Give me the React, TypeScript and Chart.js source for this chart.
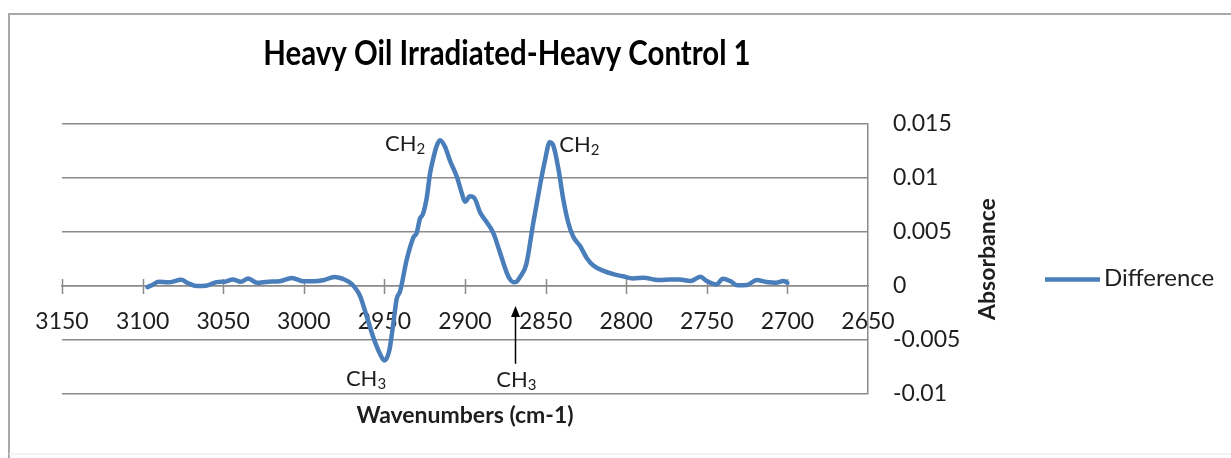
import React, { useEffect, useRef } from 'react';
import { Chart, registerables } from 'chart.js';

Chart.register(...registerables);

// ---------- data ----------
const chartTitle = 'Heavy Oil Irradiated-Heavy Control 1';
const xAxisTitle = 'Wavenumbers (cm-1)';
const yAxisTitle = 'Absorbance';
const seriesName = 'Difference';

const wavenumbers = [
  3097, 3094, 3090, 3084, 3076, 3072, 3066.5, 3060, 3054, 3049, 3044, 3039, 3034.5, 3029, 3022,
  3015, 3007.5, 3000, 2994, 2988, 2981, 2974.5, 2971, 2968, 2965, 2961, 2957, 2953, 2950, 2947,
  2944.5, 2942.4, 2940.3, 2936.2, 2932, 2930, 2928, 2926, 2923.7, 2921.7, 2919.7, 2917.5, 2915.5,
  2912.4, 2909.3, 2905, 2902, 2900, 2897, 2894, 2890.6, 2886.5, 2882.4, 2878.3, 2874, 2872, 2870,
  2868, 2866, 2862, 2857.6, 2853.5, 2850.3, 2847.5, 2845.2, 2842, 2839, 2836, 2833, 2828.6, 2824.5,
  2820.4, 2814, 2808, 2802, 2796, 2789, 2783, 2779, 2773, 2767, 2760, 2754, 2750, 2744, 2740,
  2735.5, 2731, 2725, 2719, 2713, 2707, 2702.5, 2700,
];

const absorbance = [
  -0.0001, 0.0001, 0.0004, 0.00034, 0.00058, 0.00028, 0.0, 0.00005, 0.00036, 0.0004, 0.0006, 0.0004, 0.0007, 0.0003, 0.0004,
  0.00043, 0.00074, 0.00043, 0.00043, 0.00053, 0.00083, 0.00058, 0.00028, -0.0002, -0.00095, -0.0028, -0.0047, -0.0062, -0.0069, -0.006,
  -0.0035, -0.0012, -0.0005, 0.0024, 0.0045, 0.0049, 0.0062, 0.0067, 0.0082, 0.0104, 0.0118, 0.013, 0.0135,
  0.0129, 0.0116, 0.0101, 0.0086, 0.0078, 0.0083, 0.0081, 0.0068, 0.0059, 0.0049, 0.0031, 0.0012, 0.0006, 0.00035,
  0.0004, 0.0008, 0.002, 0.0059, 0.0093, 0.0117, 0.0133, 0.013, 0.0108, 0.008, 0.0059, 0.0046, 0.0037, 0.0026,
  0.0019, 0.0014, 0.0011, 0.0009, 0.0007, 0.00077, 0.0006, 0.00055, 0.0006, 0.0006, 0.00046, 0.00086, 0.00046, 0.00015, 0.00068,
  0.00046, 0.00006, 0.0001, 0.00055, 0.00037, 0.0003, 0.00046, 0.0003,
];

const xMin = 2650;
const xMax = 3150;
const xStep = 50;
const yMin = -0.01;
const yMax = 0.015;
const yStep = 0.005;

// peak labels: main text, subscript, wavenumber, absorbance (baseline)
const peakLabelText = ['CH', 'CH', 'CH', 'CH'];
const peakLabelSub = ['2', '2', '3', '3'];
const peakLabelWn = [2937.2, 2829.1, 2961.4, 2868.1];
const peakLabelAbs = [0.0125, 0.0124, -0.00928, -0.00935];

// arrow pointing at the CH3 shoulder
const arrowWn = 2869;
const arrowFromAbs = -0.0072;
const arrowToAbs = -0.00185;

// ---------- styles ----------
const FONT = 'Lato';
const LINE_COLOR = '#4a7ebb';
const GRID_COLOR = '#8a8a8a';
const TEXT_COLOR = '#1e1e1e';

const decorPlugin = {
  id: 'decor',
  beforeDraw(chart: any) {
    const { ctx, width, height } = chart;
    ctx.save();
    ctx.fillStyle = '#ffffff';
    ctx.fillRect(0, 0, width, height);
    ctx.strokeStyle = '#a9a9a9';
    ctx.lineWidth = 2;
    ctx.beginPath();
    ctx.moveTo(9, height);
    ctx.lineTo(9, 14);
    ctx.lineTo(width, 14);
    ctx.stroke();
    ctx.strokeStyle = '#efefef';
    ctx.lineWidth = 1.5;
    ctx.beginPath();
    ctx.moveTo(9, 454);
    ctx.lineTo(width, 454);
    ctx.stroke();

    // chart title (slightly condensed, like the original)
    ctx.fillStyle = '#000';
    ctx.font = `bold 34px ${FONT}`;
    ctx.textAlign = 'center';
    ctx.textBaseline = 'middle';
    ctx.save();
    ctx.translate(507, 54);
    ctx.scale(0.865, 1);
    ctx.fillText(chartTitle, 0, 0);
    ctx.restore();
    ctx.restore();
  },
  beforeDatasetsDraw(chart: any) {
    const { ctx, chartArea } = chart;
    const xs = chart.scales.x;
    const ys = chart.scales.y;
    const y0 = ys.getPixelForValue(0);
    ctx.save();
    ctx.strokeStyle = GRID_COLOR;
    ctx.lineWidth = 1.5;
    xs.ticks.forEach((t: any) => {
      const px = Math.round(xs.getPixelForValue(t.value)) + 0.5;
      if (Math.abs(px - chartArea.right) < 2) return;
      ctx.beginPath();
      ctx.moveTo(px, y0 - 7);
      ctx.lineTo(px, y0 + 8);
      ctx.stroke();
    });
    ctx.restore();
  },
  afterDraw(chart: any) {
    const { ctx, chartArea } = chart;
    const xs = chart.scales.x;
    const ys = chart.scales.y;
    ctx.save();
    ctx.fillStyle = TEXT_COLOR;

    // peak labels with subscripts
    peakLabelText.forEach((txt, i) => {
      const cx = xs.getPixelForValue(peakLabelWn[i]);
      const by = ys.getPixelForValue(peakLabelAbs[i]);
      ctx.font = `22px ${FONT}`;
      const w1 = ctx.measureText(txt).width;
      ctx.font = `15px ${FONT}`;
      const w2 = ctx.measureText(peakLabelSub[i]).width;
      const x0 = cx - (w1 + w2) / 2;
      ctx.textAlign = 'left';
      ctx.textBaseline = 'alphabetic';
      ctx.font = `22px ${FONT}`;
      ctx.fillText(txt, x0, by);
      ctx.font = `15px ${FONT}`;
      ctx.fillText(peakLabelSub[i], x0 + w1, by + 3);
    });

    // arrow
    const ax = Math.round(xs.getPixelForValue(arrowWn)) + 0.5;
    const ay1 = ys.getPixelForValue(arrowFromAbs);
    const ay2 = ys.getPixelForValue(arrowToAbs);
    ctx.strokeStyle = '#000';
    ctx.lineWidth = 1.5;
    ctx.beginPath();
    ctx.moveTo(ax, ay1);
    ctx.lineTo(ax, ay2 + 8);
    ctx.stroke();
    ctx.fillStyle = '#000';
    ctx.beginPath();
    ctx.moveTo(ax, ay2);
    ctx.lineTo(ax - 4.5, ay2 + 11);
    ctx.lineTo(ax + 4.5, ay2 + 11);
    ctx.closePath();
    ctx.fill();

    // axis titles
    ctx.fillStyle = TEXT_COLOR;
    ctx.font = `bold 23px ${FONT}`;
    ctx.textAlign = 'center';
    ctx.textBaseline = 'middle';
    ctx.fillText(xAxisTitle, (chartArea.left + chartArea.right) / 2, 416);

    ctx.save();
    ctx.translate(988, (chartArea.top + chartArea.bottom) / 2);
    ctx.rotate(-Math.PI / 2);
    ctx.fillText(yAxisTitle, 0, 0);
    ctx.restore();

    // legend
    const ly = 279.5;
    ctx.strokeStyle = LINE_COLOR;
    ctx.lineWidth = 4.5;
    ctx.beginPath();
    ctx.moveTo(1045, ly);
    ctx.lineTo(1100, ly);
    ctx.stroke();
    ctx.fillStyle = TEXT_COLOR;
    ctx.font = `24px ${FONT}`;
    ctx.textAlign = 'left';
    ctx.textBaseline = 'middle';
    ctx.fillText(seriesName, 1104, ly - 1);

    ctx.restore();
  },
};

export default function App() {
  const canvasRef = useRef<HTMLCanvasElement | null>(null);

  useEffect(() => {
    const canvas = canvasRef.current;
    if (!canvas) return;
    Chart.defaults.font.family = FONT;
    const chart = new Chart(canvas, {
      type: 'line',
      data: {
        datasets: [
          {
            label: seriesName,
            data: wavenumbers.map((w, i) => ({ x: w, y: absorbance[i] })),
            borderColor: LINE_COLOR,
            backgroundColor: LINE_COLOR,
            borderWidth: 4.5,
            pointRadius: 0,
            borderJoinStyle: 'round',
            borderCapStyle: 'round',
            cubicInterpolationMode: 'monotone',
          },
        ],
      },
      options: {
        responsive: false,
        animation: false,
        events: [],
        layout: { padding: { left: 62, right: 253, top: 124, bottom: 64 } },
        plugins: {
          legend: { display: false },
          tooltip: { enabled: false },
          title: { display: false },
        },
        scales: {
          x: {
            type: 'linear',
            reverse: true,
            min: xMin,
            max: xMax,
            position: { y: 0 },
            grid: { display: false, drawTicks: false },
            border: { display: true, color: GRID_COLOR, width: 1.5 },
            ticks: {
              stepSize: xStep,
              autoSkip: false,
              maxRotation: 0,
              padding: 22,
              color: TEXT_COLOR,
              font: { family: FONT, size: 23 },
              callback: (v: any) => String(v),
            },
          },
          y: {
            type: 'linear',
            position: 'right',
            min: yMin,
            max: yMax,
            grid: { color: GRID_COLOR, lineWidth: 1.5, drawTicks: false },
            border: { display: true, color: GRID_COLOR, width: 1.5 },
            ticks: {
              stepSize: yStep,
              padding: 25,
              color: TEXT_COLOR,
              font: { family: FONT, size: 23 },
              callback: (v: any) => String(+Number(v).toFixed(3)),
            },
            afterFit: (scale: any) => {
              scale.width = 110;
            },
          },
        },
      },
      plugins: [decorPlugin],
    } as any);
    return () => chart.destroy();
  }, []);

  return (
    <div style={{ position: 'fixed', left: 0, top: 0, width: 1231, height: 458, background: '#fff' }}>
      <canvas ref={canvasRef} width={1231} height={458} style={{ display: 'block' }} />
    </div>
  );
}
